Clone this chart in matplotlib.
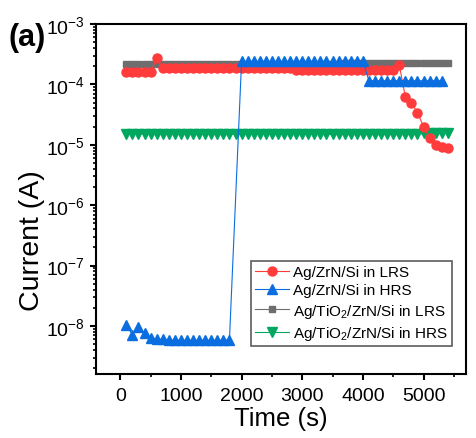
import numpy as np
import matplotlib
matplotlib.use('Agg')
import matplotlib.pyplot as plt
from matplotlib.ticker import LogLocator, MultipleLocator, NullFormatter

plt.rcParams['font.family'] = ['Liberation Sans', 'DejaVu Sans']
plt.rcParams['mathtext.fontset'] = 'custom'
plt.rcParams['mathtext.rm'] = 'Liberation Sans'
plt.rcParams['mathtext.it'] = 'Liberation Sans:italic'
plt.rcParams['mathtext.bf'] = 'Liberation Sans:bold'

# time axis (s), one reading every 100 s
t = [100, 200, 300, 400, 500, 600, 700, 800, 900, 1000,
     1100, 1200, 1300, 1400, 1500, 1600, 1700, 1800, 1900, 2000,
     2100, 2200, 2300, 2400, 2500, 2600, 2700, 2800, 2900, 3000,
     3100, 3200, 3300, 3400, 3500, 3600, 3700, 3800, 3900, 4000,
     4100, 4200, 4300, 4400, 4500, 4600, 4700, 4800, 4900, 5000,
     5100, 5200, 5300, 5400]

# Ag/ZrN/Si in LRS
zrn_lrs = [1.6e-4, 1.6e-4, 1.6e-4, 1.6e-4, 1.6e-4, 2.7e-4, 1.85e-4, 1.85e-4, 1.85e-4, 1.85e-4,
           1.85e-4, 1.85e-4, 1.85e-4, 1.85e-4, 1.85e-4, 1.85e-4, 1.85e-4, 1.85e-4, 1.85e-4, 1.85e-4,
           1.85e-4, 1.85e-4, 1.85e-4, 1.85e-4, 1.85e-4, 1.85e-4, 1.85e-4, 1.85e-4, 1.7e-4, 1.7e-4,
           1.7e-4, 1.7e-4, 1.7e-4, 1.7e-4, 1.7e-4, 1.7e-4, 1.7e-4, 1.7e-4, 1.7e-4, 1.7e-4,
           1.7e-4, 1.7e-4, 1.7e-4, 1.7e-4, 1.7e-4, 2.1e-4, 6.2e-5, 5.0e-5, 3.4e-5, 2.0e-5,
           1.3e-5, 1.0e-5, 9.2e-6, 8.9e-6]

# Ag/ZrN/Si in HRS
t_hrs = [100, 200, 300, 400, 500, 600, 700, 800, 900, 1000,
         1100, 1200, 1300, 1400, 1500, 1600, 1700, 1800, 2000, 2100,
         2200, 2300, 2400, 2500, 2600, 2700, 2800, 2900, 3000, 3100,
         3200, 3300, 3400, 3500, 3600, 3700, 3800, 3900, 4000, 4100,
         4200, 4300, 4400, 4500, 4600, 4700, 4800, 4900, 5000, 5100,
         5200, 5300]
zrn_hrs = [1.05e-8, 7.2e-9, 9.6e-9, 7.6e-9, 6.4e-9, 6.0e-9, 6.0e-9, 5.9e-9, 5.8e-9, 5.8e-9,
           5.8e-9, 5.8e-9, 5.8e-9, 5.8e-9, 5.8e-9, 5.8e-9, 5.8e-9, 5.9e-9, 2.4e-4, 2.4e-4,
           2.4e-4, 2.4e-4, 2.4e-4, 2.4e-4, 2.4e-4, 2.4e-4, 2.4e-4, 2.4e-4, 2.4e-4, 2.4e-4,
           2.4e-4, 2.4e-4, 2.4e-4, 2.4e-4, 2.4e-4, 2.4e-4, 2.4e-4, 2.4e-4, 2.4e-4, 1.15e-4,
           1.15e-4, 1.15e-4, 1.15e-4, 1.15e-4, 1.15e-4, 1.15e-4, 1.15e-4, 1.15e-4, 1.15e-4, 1.15e-4,
           1.15e-4, 1.15e-4]

# Ag/TiO2/ZrN/Si in LRS
tio2_lrs = [2.15e-4, 2.15e-4, 2.15e-4, 2.15e-4, 2.15e-4, 2.15e-4, 2.15e-4, 2.15e-4, 2.15e-4, 2.15e-4,
            2.15e-4, 2.15e-4, 2.15e-4, 2.15e-4, 2.15e-4, 2.15e-4, 2.2e-4, 2.2e-4, 2.2e-4, 2.2e-4,
            2.2e-4, 2.2e-4, 2.2e-4, 2.2e-4, 2.2e-4, 2.2e-4, 2.2e-4, 2.2e-4, 2.2e-4, 2.2e-4,
            2.2e-4, 2.2e-4, 2.2e-4, 2.2e-4, 2.2e-4, 2.2e-4, 2.25e-4, 2.25e-4, 2.25e-4, 2.25e-4,
            2.25e-4, 2.25e-4, 2.25e-4, 2.25e-4, 2.25e-4, 2.25e-4, 2.25e-4, 2.25e-4, 2.25e-4, 2.25e-4,
            2.25e-4, 2.25e-4, 2.25e-4, 2.25e-4]

# Ag/TiO2/ZrN/Si in HRS
tio2_hrs = [1.52e-5, 1.52e-5, 1.52e-5, 1.52e-5, 1.52e-5, 1.51e-5, 1.51e-5, 1.51e-5, 1.5e-5, 1.5e-5,
            1.5e-5, 1.5e-5, 1.5e-5, 1.5e-5, 1.5e-5, 1.5e-5, 1.5e-5, 1.5e-5, 1.5e-5, 1.5e-5,
            1.49e-5, 1.49e-5, 1.49e-5, 1.49e-5, 1.48e-5, 1.48e-5, 1.48e-5, 1.48e-5, 1.48e-5, 1.48e-5,
            1.48e-5, 1.48e-5, 1.48e-5, 1.48e-5, 1.48e-5, 1.48e-5, 1.48e-5, 1.48e-5, 1.48e-5, 1.48e-5,
            1.48e-5, 1.48e-5, 1.48e-5, 1.48e-5, 1.48e-5, 1.48e-5, 1.48e-5, 1.48e-5, 1.48e-5, 1.55e-5,
            1.55e-5, 1.55e-5, 1.55e-5, 1.55e-5]

labels = ['Ag/ZrN/Si in LRS', 'Ag/ZrN/Si in HRS',
          'Ag/TiO$_2$/ZrN/Si in LRS', 'Ag/TiO$_2$/ZrN/Si in HRS']
colors = ['#FF3B3B', '#0A6EE0', '#6E6E6E', '#00A85F']

fig = plt.figure(figsize=(4.76, 4.39), dpi=100)
ax = fig.add_axes([96/476, 1-375/439, 370/476, 350/439])

l3, = ax.plot(t, tio2_lrs, '-s', color=colors[2], ms=5, lw=0.8, zorder=2, label=labels[2])
l4, = ax.plot(t, tio2_hrs, '-v', color=colors[3], ms=7, lw=0.8, zorder=2, label=labels[3])
l1, = ax.plot(t, zrn_lrs, '-o', color=colors[0], ms=6.5, lw=0.8, zorder=3, label=labels[0])
l2, = ax.plot(t_hrs, zrn_hrs, '-^', color=colors[1], ms=7, lw=0.8, zorder=4, label=labels[1])

ax.set_yscale('log')
ax.set_ylim(1.6e-9, 1e-3)
ax.set_xlim(-400, 5700)
ax.xaxis.set_major_locator(MultipleLocator(1000))
ax.xaxis.set_minor_locator(MultipleLocator(500))
ax.yaxis.set_major_locator(LogLocator(base=10, numticks=20))
ax.yaxis.set_minor_locator(LogLocator(base=10, subs=np.arange(2, 10), numticks=20))
ax.yaxis.set_minor_formatter(NullFormatter())

for s in ax.spines.values():
    s.set_linewidth(1.5)
ax.tick_params(which='major', direction='out', length=4.5, width=1.5, labelsize=14)
ax.tick_params(axis='x', which='major', pad=5)
ax.tick_params(which='minor', direction='out', length=2.5, width=1.2)

ax.set_xlabel('Time (s)', fontsize=18.5)
ax.xaxis.set_label_coords(0.5, -0.092)
ax.set_ylabel('Current (A)', fontsize=20.5)
ax.yaxis.set_label_coords(-0.138, 0.385)

leg = ax.legend(handles=[l1, l2, l3, l4], loc='upper left', bbox_to_anchor=(0.42, 0.322),
                fontsize=11, frameon=True, fancybox=False, edgecolor='#333333',
                handlelength=2.2, borderpad=0.25, labelspacing=0.28, handletextpad=0.3,
                borderaxespad=0)
leg.get_frame().set_linewidth(1.2)

fig.text(8/476, 1-46/439, '(a)', fontsize=22, fontweight='bold')

fig.savefig('out.png', dpi=100)
